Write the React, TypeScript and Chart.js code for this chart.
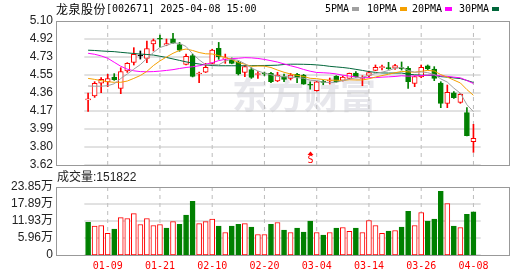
import React, { useEffect, useRef } from 'react';
import { Chart, registerables } from 'chart.js';

Chart.register(...registerables);

// ---------- data ----------
const dates = [
  '01-06', '01-07', '01-08', '01-09', '01-10', '01-13', '01-14', '01-15', '01-16', '01-17',
  '01-20', '01-21', '01-22', '01-23', '01-24', '01-27', '02-05', '02-06', '02-07', '02-10',
  '02-11', '02-12', '02-13', '02-14', '02-17', '02-18', '02-19', '02-20', '02-21', '02-24',
  '02-25', '02-26', '02-27', '02-28', '03-03', '03-04', '03-05', '03-06', '03-07', '03-10',
  '03-11', '03-12', '03-13', '03-14', '03-17', '03-18', '03-19', '03-20', '03-21', '03-24',
  '03-25', '03-26', '03-27', '03-28', '03-31', '04-01', '04-02', '04-03', '04-07', '04-08',
];

const opens = [
  4.29, 4.33, 4.46, 4.473, 4.524, 4.408, 4.586, 4.675, 4.74, 4.716,
  4.864, 4.918, 4.853, 4.918, 4.857, 4.655, 4.744, 4.555, 4.573, 4.665,
  4.82, 4.71, 4.70, 4.675, 4.572, 4.60, 4.55, 4.565, 4.562, 4.483,
  4.528, 4.51, 4.552, 4.545, 4.445, 4.384, 4.48, 4.483, 4.532, 4.49,
  4.51, 4.566, 4.51, 4.541, 4.593, 4.62, 4.617, 4.614, 4.618, 4.614,
  4.459, 4.524, 4.638, 4.607, 4.463, 4.254, 4.363, 4.264, 4.158, 3.86,
];
const highs = [
  4.36, 4.476, 4.518, 4.552, 4.559, 4.62, 4.672, 4.826, 4.792, 4.894,
  4.915, 4.956, 4.915, 4.973, 4.88, 4.76, 4.76, 4.575, 4.665, 4.81,
  4.88, 4.76, 4.72, 4.69, 4.641, 4.62, 4.58, 4.575, 4.573, 4.573,
  4.555, 4.562, 4.562, 4.552, 4.476, 4.48, 4.49, 4.514, 4.538, 4.535,
  4.565, 4.58, 4.538, 4.586, 4.648, 4.648, 4.675, 4.655, 4.679, 4.631,
  4.535, 4.648, 4.648, 4.631, 4.476, 4.442, 4.374, 4.357, 4.209, 4.038,
];
const lows = [
  4.17, 4.315, 4.363, 4.425, 4.49, 4.353, 4.572, 4.648, 4.709, 4.672,
  4.792, 4.83, 4.846, 4.87, 4.789, 4.648, 4.525, 4.466, 4.57, 4.66,
  4.706, 4.665, 4.66, 4.545, 4.528, 4.51, 4.51, 4.54, 4.466, 4.476,
  4.476, 4.494, 4.466, 4.449, 4.40, 4.38, 4.445, 4.452, 4.47, 4.483,
  4.503, 4.52, 4.435, 4.524, 4.59, 4.596, 4.603, 4.603, 4.596, 4.408,
  4.425, 4.517, 4.60, 4.487, 4.209, 4.209, 4.305, 4.254, 3.92, 3.75,
];
const closes = [
  4.30, 4.46, 4.50, 4.507, 4.497, 4.579, 4.665, 4.757, 4.74, 4.816,
  4.898, 4.912, 4.867, 4.875, 4.80, 4.737, 4.53, 4.565, 4.624, 4.80,
  4.733, 4.72, 4.665, 4.555, 4.631, 4.52, 4.56, 4.555, 4.476, 4.545,
  4.50, 4.545, 4.52, 4.452, 4.44, 4.476, 4.47, 4.49, 4.476, 4.524,
  4.562, 4.528, 4.52, 4.569, 4.624, 4.63, 4.61, 4.641, 4.61, 4.476,
  4.528, 4.624, 4.607, 4.51, 4.254, 4.367, 4.312, 4.346, 3.921, 3.894,
];

const ma5 = [
  4.432, 4.430, 4.430, 4.435, 4.455, 4.509, 4.555, 4.605, 4.652, 4.715,
  4.777, 4.827, 4.850, 4.874, 4.870, 4.838, 4.762, 4.701, 4.651, 4.651,
  4.650, 4.688, 4.708, 4.695, 4.661, 4.618, 4.586, 4.564, 4.548, 4.531,
  4.527, 4.524, 4.517, 4.512, 4.491, 4.487, 4.472, 4.466, 4.470, 4.487,
  4.504, 4.516, 4.522, 4.541, 4.561, 4.574, 4.591, 4.615, 4.623, 4.593,
  4.573, 4.576, 4.569, 4.549, 4.505, 4.472, 4.410, 4.358, 4.240, 4.168,
];
const ma10 = [
  4.510, 4.500, 4.487, 4.476, 4.470, 4.470, 4.483, 4.510, 4.540, 4.582,
  4.642, 4.690, 4.730, 4.768, 4.798, 4.812, 4.797, 4.776, 4.763, 4.761,
  4.744, 4.725, 4.705, 4.673, 4.656, 4.634, 4.637, 4.636, 4.622, 4.596,
  4.573, 4.555, 4.541, 4.530, 4.511, 4.507, 4.498, 4.491, 4.491, 4.489,
  4.496, 4.494, 4.494, 4.506, 4.524, 4.539, 4.553, 4.568, 4.582, 4.577,
  4.574, 4.583, 4.592, 4.586, 4.549, 4.523, 4.493, 4.463, 4.395, 4.336,
];
const ma20 = [
  4.768, 4.758, 4.741, 4.717, 4.676, 4.635, 4.605, 4.588, 4.580, 4.578,
  4.580, 4.585, 4.592, 4.600, 4.612, 4.622, 4.630, 4.640, 4.656, 4.671,
  4.693, 4.706, 4.714, 4.717, 4.723, 4.721, 4.715, 4.705, 4.692, 4.678,
  4.659, 4.640, 4.623, 4.602, 4.584, 4.571, 4.568, 4.564, 4.556, 4.543,
  4.534, 4.525, 4.517, 4.518, 4.518, 4.523, 4.526, 4.530, 4.537, 4.533,
  4.535, 4.539, 4.543, 4.546, 4.536, 4.531, 4.523, 4.516, 4.488, 4.457,
];
const ma30 = [
  4.800, 4.797, 4.792, 4.788, 4.785, 4.778, 4.772, 4.766, 4.760, 4.756,
  4.750, 4.738, 4.725, 4.710, 4.695, 4.680, 4.668, 4.658, 4.648, 4.642,
  4.640, 4.640, 4.640, 4.640, 4.640, 4.641, 4.642, 4.643, 4.644, 4.646,
  4.653, 4.656, 4.656, 4.655, 4.653, 4.649, 4.643, 4.634, 4.628, 4.622,
  4.614, 4.603, 4.592, 4.580, 4.572, 4.566, 4.565, 4.565, 4.565, 4.554,
  4.547, 4.544, 4.542, 4.541, 4.528, 4.523, 4.515, 4.508, 4.489, 4.468,
];

const volumes = [
  115000, 101000, 103500, 75600, 90700, 131000, 128000, 145000, 107000, 128000,
  103500, 107000, 94000, 117000, 108000, 140000, 188000, 110000, 117000, 126000,
  101000, 79000, 101000, 108000, 110000, 98000, 72000, 72000, 108000, 114000,
  87000, 79000, 94000, 80000, 119000, 79000, 70000, 79000, 94000, 96500,
  82600, 94000, 79000, 121000, 103500, 75600, 83700, 86000, 97700, 153500,
  103500, 149000, 118600, 125600, 223000, 180000, 101000, 96500, 143000, 151822,
];
// 1 = rise vs previous close (red hollow), 0 = fall (green filled)
const volumeUp = [
  0, 1, 1, 1, 0, 1, 1, 1, 1, 1,
  1, 1, 0, 1, 0, 0, 0, 1, 1, 1,
  0, 1, 0, 0, 1, 0, 1, 1, 0, 1,
  0, 1, 0, 0, 0, 1, 0, 1, 0, 1,
  1, 0, 1, 1, 1, 1, 0, 1, 0, 0,
  1, 1, 0, 0, 0, 1, 0, 1, 0, 0,
];

const priceTickValues = [3.62, 3.805, 3.99, 4.175, 4.36, 4.545, 4.73, 4.915, 5.10];
const priceTickLabels = ['3.62', '3.80', '3.99', '4.17', '4.36', '4.55', '4.73', '4.92', '5.10'];
const volumeTickValues = [0, 59625, 119250, 178875, 238500];
const volumeTickLabels = ['0', '5.96万', '11.93万', '17.89万', '23.85万'];
const dateTickIndexes = [3, 11, 19, 27, 35, 43, 51, 59];
const signalIndex = 34;

const stockName = '龙泉股份';
const stockCode = '[002671]';
const stamp = '2025-04-08 15:00';
const volumeTitle = '成交量:151822';
const maNames = ['5PMA', '10PMA', '20PMA', '30PMA'];

// ---------- styles ----------
const RED = '#ff0000';
const GREEN = '#008000';
const DOJI = '#000000';
const MA_COLORS = ['#a0a0a0', '#f5a000', '#ff00ff', '#00663a'];
const GRID = '#c4c4c4';
const DASH = '#bcbcbc';
const BOX = '#999999';
const X_MIN = -0.58;
const X_MAX = 60.11;
const SANS = "'Liberation Sans', 'Noto Sans CJK SC', sans-serif";
const MONO = "'DejaVu Sans Mono', monospace";

const candleColor = (i: number) =>
  closes[i] > opens[i] ? RED : closes[i] < opens[i] ? GREEN : DOJI;
const bodyFill = (i: number) =>
  closes[i] > opens[i] ? '#ffffff' : closes[i] < opens[i] ? GREEN : DOJI;

// grid lines as line datasets (drawn first, under everything else)
const gridDatasets = (yValues: number[], yMin: number, yMax: number) => [
  ...yValues.map((v) => ({
    type: 'line' as const,
    label: 'grid-h',
    data: [{ x: X_MIN, y: v }, { x: X_MAX, y: v }],
    borderColor: GRID,
    backgroundColor: 'rgba(0,0,0,0)',
    borderWidth: 1,
    pointRadius: 0,
    fill: false,
    order: 10,
  })),
  ...dateTickIndexes.map((i) => ({
    type: 'line' as const,
    label: 'grid-v',
    data: [{ x: i, y: yMin }, { x: i, y: yMax }],
    borderColor: DASH,
    backgroundColor: 'rgba(0,0,0,0)',
    borderWidth: 1,
    borderDash: [4, 4],
    pointRadius: 0,
    fill: false,
    order: 10,
  })),
];

const watermarkPlugin = {
  id: 'watermark',
  beforeDraw(chart: any) {
    const { ctx, chartArea } = chart;
    ctx.save();
    ctx.fillStyle = 'rgba(228,228,234,0.9)';
    ctx.font = "bold 36px 'Noto Sans CJK SC'";
    ctx.textBaseline = 'middle';
    ctx.textAlign = 'left';
    ctx.fillText('东方财富', Math.round(chartArea.left) + 176, Math.round(chartArea.top) + 74);
    ctx.restore();
  },
};

const signalPlugin = {
  id: 'signal',
  afterDatasetsDraw(chart: any) {
    const { ctx, chartArea, scales } = chart;
    const x = Math.round(scales.x.getPixelForValue(signalIndex)) + 0.5;
    const b = chartArea.bottom;
    ctx.save();
    ctx.fillStyle = RED;
    ctx.beginPath();
    ctx.moveTo(x, b - 13.5);
    ctx.lineTo(x - 3, b - 10);
    ctx.lineTo(x + 3, b - 10);
    ctx.closePath();
    ctx.fill();
    ctx.font = `10px ${MONO}`;
    ctx.textAlign = 'center';
    ctx.textBaseline = 'middle';
    ctx.fillText('S', x, b - 4.5);
    ctx.restore();
  },
};

const boxPlugin = {
  id: 'plotBox',
  afterDraw(chart: any) {
    const { ctx, chartArea } = chart;
    const l = Math.round(chartArea.left);
    const t = Math.round(chartArea.top);
    const r = Math.round(chartArea.right);
    const b = Math.round(chartArea.bottom);
    ctx.save();
    ctx.strokeStyle = BOX;
    ctx.lineWidth = 1;
    ctx.setLineDash([]);
    ctx.strokeRect(l + 0.5, t + 0.5, r - l, b - t);
    ctx.restore();
  },
};

const xScaleBase = (showLabels: boolean) => ({
  type: 'linear' as const,
  min: X_MIN,
  max: X_MAX,
  bounds: 'data' as const,
  afterBuildTicks: (s: any) => {
    s.ticks = dateTickIndexes.map((v) => ({ value: v }));
  },
  ticks: {
    display: showLabels,
    autoSkip: false,
    maxRotation: 0,
    padding: 5,
    color: RED,
    font: { family: MONO, size: 10 },
    callback: (v: any) => dates[v as number],
  },
  grid: { display: false, drawTicks: false },
  border: { display: false },
  afterFit: (s: any) => {
    s.height = showLabels ? 21 : 0;
  },
});

const yScaleBase = (min: number, max: number, values: number[], labels: string[]) => ({
  min,
  max,
  bounds: 'data' as const,
  afterBuildTicks: (s: any) => {
    s.ticks = values.map((v) => ({ value: v }));
  },
  ticks: {
    autoSkip: false,
    padding: 3,
    color: '#222',
    font: { family: SANS, size: 12 },
    callback: (_v: any, i: number) => labels[i],
  },
  grid: { display: false, drawTicks: false },
  border: { display: false },
  afterFit: (s: any) => {
    s.width = 56;
  },
});

export default function App() {
  const priceRef = useRef<HTMLCanvasElement | null>(null);
  const volRef = useRef<HTMLCanvasElement | null>(null);

  useEffect(() => {
    document.body.style.margin = '0';
    const idx = dates.map((_, i) => i);

    const price = new Chart(priceRef.current as HTMLCanvasElement, {
      type: 'bar',
      data: {
        datasets: [
          ...[ma5, ma10, ma20, ma30].map((arr, k) => ({
            type: 'line' as const,
            label: maNames[k],
            data: arr.map((v, i) => ({ x: i, y: v })),
            borderColor: MA_COLORS[k],
            backgroundColor: 'rgba(0,0,0,0)',
            borderWidth: 1,
            pointRadius: 0,
            tension: 0,
            fill: false,
            order: 0,
          })),
          {
            type: 'bar' as const,
            label: 'body',
            data: idx.map((i) => ({
              x: i,
              y: [Math.min(opens[i], closes[i]), Math.max(opens[i], closes[i])],
            })),
            backgroundColor: idx.map(bodyFill),
            borderColor: idx.map(candleColor),
            borderWidth: 1,
            borderSkipped: false,
            barThickness: 5,
            minBarLength: 1,
            grouped: false,
            order: 1,
          },
          {
            type: 'bar' as const,
            label: 'wick',
            data: idx.map((i) => ({ x: i, y: [lows[i], highs[i]] })),
            backgroundColor: idx.map(candleColor),
            borderWidth: 0,
            barThickness: 1,
            grouped: false,
            order: 2,
          },
          ...gridDatasets(priceTickValues, 3.62, 5.1),
        ] as any,
      },
      options: {
        animation: false,
        responsive: false,
        maintainAspectRatio: false,
        layout: { padding: { left: 0, right: 21, top: 21, bottom: 11 } },
        plugins: { legend: { display: false }, tooltip: { enabled: false } },
        scales: {
          x: xScaleBase(false) as any,
          y: yScaleBase(3.62, 5.1, priceTickValues, priceTickLabels) as any,
        },
      },
      plugins: [watermarkPlugin, signalPlugin, boxPlugin],
    });

    const volume = new Chart(volRef.current as HTMLCanvasElement, {
      type: 'bar',
      data: {
        datasets: [
          {
            label: 'volume',
            data: idx.map((i) => ({ x: i, y: volumes[i] })),
            backgroundColor: idx.map((i) => (volumeUp[i] ? '#ffffff' : GREEN)),
            borderColor: idx.map((i) => (volumeUp[i] ? RED : GREEN)),
            borderWidth: 1,
            borderSkipped: false,
            barThickness: 5,
            grouped: false,
            order: 1,
          },
          ...gridDatasets(volumeTickValues, 0, 238500),
        ] as any,
      },
      options: {
        animation: false,
        responsive: false,
        maintainAspectRatio: false,
        layout: { padding: { left: 0, right: 21, top: 17, bottom: 0 } },
        plugins: { legend: { display: false }, tooltip: { enabled: false } },
        scales: {
          x: xScaleBase(true) as any,
          y: yScaleBase(0, 238500, volumeTickValues, volumeTickLabels) as any,
        },
      },
      plugins: [boxPlugin],
    });

    return () => {
      price.destroy();
      volume.destroy();
    };
  }, []);

  const legendLefts = [325, 367, 412, 459];
  const legendTextWidths = [24, 30, 30, 30];

  return (
    <div style={{ position: 'relative', width: 530, height: 276, background: '#fff', overflow: 'hidden' }}>
      <canvas ref={priceRef} width={530} height={176} style={{ position: 'absolute', left: 0, top: 0 }} />
      <canvas ref={volRef} width={530} height={106} style={{ position: 'absolute', left: 0, top: 170 }} />
      <div
        style={{
          position: 'absolute', left: 56, top: 2, whiteSpace: 'nowrap', color: '#000',
          lineHeight: '14px', height: 14, display: 'flex', alignItems: 'center',
        }}
      >
        <span style={{ fontFamily: "'Noto Sans CJK SC'", fontSize: 12, letterSpacing: 0.5 }}>{stockName}</span>
        <span style={{ fontFamily: MONO, fontSize: 10 }}>{stockCode} {stamp}</span>
      </div>
      {maNames.map((name, k) => (
        <div
          key={name}
          style={{
            position: 'absolute', left: legendLefts[k], top: 3, height: 12, lineHeight: '12px',
            fontFamily: MONO, fontSize: 10, color: '#000', whiteSpace: 'nowrap',
          }}
        >
          {name}
          <span
            style={{
              position: 'absolute', left: legendTextWidths[k] + 3, top: 4, width: 7, height: 4,
              background: MA_COLORS[k],
            }}
          />
        </div>
      ))}
      <div
        style={{
          position: 'absolute', left: 57, top: 170, height: 14, lineHeight: '14px',
          fontFamily: SANS, fontSize: 12, color: '#222', whiteSpace: 'nowrap',
        }}
      >
        {volumeTitle}
      </div>
    </div>
  );
}
